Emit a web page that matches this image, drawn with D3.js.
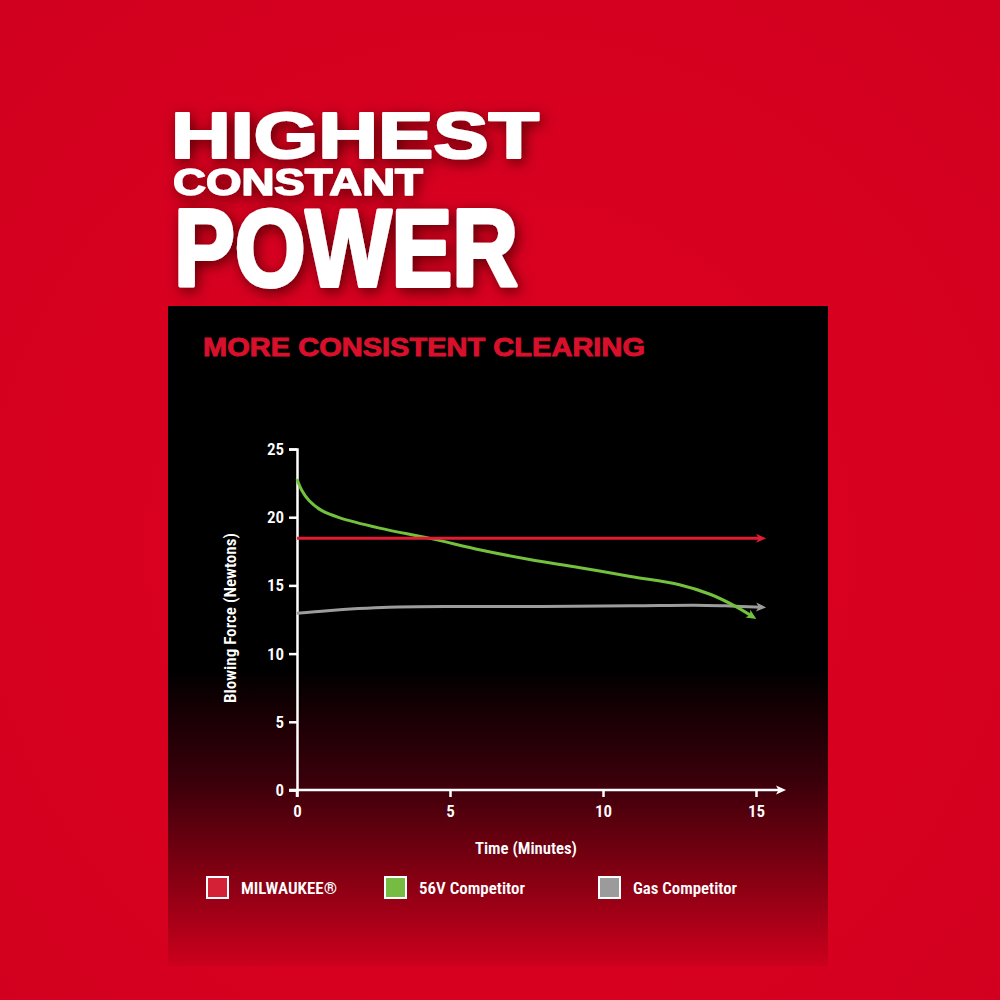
<!DOCTYPE html>
<html><head><meta charset="utf-8">
<script src="https://cdn.jsdelivr.net/npm/d3@7"></script>
<style>html,body{margin:0;padding:0;background:#da0020;}svg{display:block}</style>
</head><body>
<svg id="c" width="1000" height="1000"></svg>
<script>
// ---- data ----
const seriesNames = ["MILWAUKEE®", "56V Competitor", "Gas Competitor"];
const seriesColors = ["#e11d36", "#74c13d", "#9c9c9c"];
const legendFills = ["#d42135", "#76bc43", "#9b9b9b"];
const milwaukeeTime = [0, 15.2];
const milwaukeeForce = [18.45, 18.45];
const v56Time = [0, 0.15, 0.4, 0.8, 1.4, 2.7, 4.35, 6.0, 7.6, 9.25, 10.9, 12.5, 13.5, 14.3, 14.9];
const v56Force = [22.8, 22.0, 21.2, 20.5, 19.95, 19.2, 18.45, 17.6, 16.9, 16.3, 15.65, 15.05, 14.35, 13.5, 12.7];
const gasTime = [0, 1, 2, 3, 5, 8, 11, 13, 14, 15.2];
const gasForce = [12.95, 13.15, 13.3, 13.4, 13.45, 13.45, 13.5, 13.55, 13.5, 13.4];
const yTicks = [0, 5, 10, 15, 20, 25];
const xTicks = [0, 5, 10, 15];
const titleLines = ["HIGHEST", "CONSTANT", "POWER"];
const subtitle = "MORE CONSISTENT CLEARING";
const xTitle = "Time (Minutes)";
const yTitle = "Blowing Force (Newtons)";

const svg = d3.select("#c");
const defs = svg.append("defs");
const cond = "'Liberation Sans Narrow','Roboto Condensed','Arial Narrow',Roboto,sans-serif";
const heavy = "'Liberation Sans','DejaVu Sans',Arial,sans-serif";

// background
svg.append("rect").attr("width",1000).attr("height",1000).attr("fill","#da0020");
const bgGrad = defs.append("radialGradient").attr("id","bgv").attr("cx","50%").attr("cy","55%").attr("r","75%");
bgGrad.append("stop").attr("offset","0%").attr("stop-color","#e20022").attr("stop-opacity",0.0);
bgGrad.append("stop").attr("offset","100%").attr("stop-color","#b80018").attr("stop-opacity",0.3);
svg.append("rect").attr("width",1000).attr("height",1000).attr("fill","url(#bgv)");

// title shadow filter
const f = defs.append("filter").attr("id","sh").attr("x","-20%").attr("y","-40%").attr("width","140%").attr("height","180%");
f.append("feDropShadow").attr("dx",3).attr("dy",4).attr("stdDeviation",7).attr("flood-color","#4a0006").attr("flood-opacity",0.85);

const titleSpec = [
  {y:158, size:64, len:368, x:171, sw:2.2},
  {y:195, size:36, len:250, x:173, sw:1.4},
  {y:286, size:110, len:344, x:174, sw:4}
];
titleLines.forEach((t,i)=>{
  const s = titleSpec[i];
  svg.append("text").attr("x",s.x).attr("y",s.y).text(t)
    .attr("font-family",heavy).attr("font-weight","900").attr("font-size",s.size)
    .attr("textLength",s.len).attr("lengthAdjust","spacingAndGlyphs")
    .attr("fill","#ffffff").attr("stroke","#ffffff").attr("stroke-width",s.sw)
    .attr("stroke-linejoin","round").attr("filter","url(#sh)");
});

// panel
const pg = defs.append("linearGradient").attr("id","pg").attr("x1",0).attr("y1",0).attr("x2",0).attr("y2",1);
[["0%","#000000"],["55%","#000000"],["72%","#3a000a"],["86%","#820012"],["100%","#cc001d"]]
  .forEach(([o,c])=>pg.append("stop").attr("offset",o).attr("stop-color",c));
svg.append("rect").attr("x",168).attr("y",306).attr("width",660).attr("height",660).attr("fill","url(#pg)");

svg.append("text").attr("x",203).attr("y",356).text(subtitle)
  .attr("font-family",heavy).attr("font-weight","900").attr("font-size",25)
  .attr("textLength",442).attr("lengthAdjust","spacingAndGlyphs").attr("fill","#d8102c")
  .attr("stroke","#d8102c").attr("stroke-width",0.9);

// scales
const x = d3.scaleLinear().domain([0,15]).range([297,756]);
const y = d3.scaleLinear().domain([0,25]).range([790,449]);

// markers
function marker(id, color){
  defs.append("marker").attr("id",id).attr("viewBox","-1 -5 12 10")
    .attr("refX",6).attr("refY",0).attr("markerWidth",12).attr("markerHeight",10)
    .attr("markerUnits","userSpaceOnUse").attr("orient","auto")
    .append("path").attr("d","M0,-4.5 L10,0 L0,4.5 L2.5,0 Z").attr("fill",color);
}
marker("mr", seriesColors[0]); marker("mg", seriesColors[1]); marker("mgr", seriesColors[2]);
marker("mw", "#ffffff");

// axes
const yAxis = d3.axisLeft(y).tickValues(yTicks).tickSize(8).tickSizeOuter(8).tickPadding(5);
const ya = svg.append("g").attr("transform","translate(297,0)").call(yAxis);
ya.select(".domain").attr("stroke","#fff").attr("stroke-width",2.5);
ya.selectAll(".tick line").attr("stroke","#fff").attr("stroke-width",2.5);
ya.selectAll(".tick text").attr("fill","#fff").attr("font-family",cond).attr("font-size",17).attr("font-weight","600");
svg.append("line").attr("x1",297).attr("x2",297).attr("y1",y(0)).attr("y2",y(0)+7).attr("stroke","#fff").attr("stroke-width",2.5);

const xAxis = d3.axisBottom(x).tickValues(xTicks).tickSize(7).tickSizeOuter(0).tickPadding(8);
const xa = svg.append("g").attr("transform","translate(0,790)").call(xAxis);
xa.select(".domain").remove();
xa.selectAll(".tick line").attr("stroke","#fff").attr("stroke-width",2.5);
xa.selectAll(".tick text").attr("fill","#fff").attr("font-family",cond).attr("font-size",17).attr("font-weight","600");
svg.append("line").attr("x1",289).attr("x2",x(15.85)).attr("y1",790).attr("y2",790)
  .attr("stroke","#fff").attr("stroke-width",2.5).attr("marker-end","url(#mw)");

svg.append("text").attr("x",526).attr("y",854).attr("text-anchor","middle").text(xTitle)
  .attr("fill","#fff").attr("font-family",cond).attr("font-size",16).attr("font-weight","600")
  .attr("textLength",102).attr("lengthAdjust","spacingAndGlyphs");
svg.append("text").attr("transform","translate(236,618) rotate(-90)").attr("text-anchor","middle").text(yTitle)
  .attr("fill","#fff").attr("font-family",cond).attr("font-size",16).attr("font-weight","600")
  .attr("textLength",170).attr("lengthAdjust","spacingAndGlyphs");

// lines
const line = d3.line().x(d=>x(d[0])).y(d=>y(d[1])).curve(d3.curveCatmullRom.alpha(0.5));
const series = [
  {t:milwaukeeTime, v:milwaukeeForce, c:seriesColors[0], m:"mr"},
  {t:gasTime, v:gasForce, c:seriesColors[2], m:"mgr"},
  {t:v56Time, v:v56Force, c:seriesColors[1], m:"mg"}
];
const drawOrder = [1,2,0];
drawOrder.forEach(i=>{
  const s = series[i];
  svg.append("path").datum(d3.zip(s.t,s.v)).attr("d",line).attr("fill","none")
    .attr("stroke",s.c).attr("stroke-width",3).attr("marker-end",`url(#${s.m})`);
});

// legend
const legX = [207, 385, 599];
const legLen = [96, 106, 104];
seriesNames.forEach((n,i)=>{
  svg.append("rect").attr("x",legX[i]).attr("y",877).attr("width",21).attr("height",21)
    .attr("fill",legendFills[i]).attr("stroke","#fff").attr("stroke-width",2);
  svg.append("text").attr("x",legX[i]+34).attr("y",894).text(n)
    .attr("fill","#fff").attr("font-family",cond).attr("font-size",17).attr("font-weight","600")
    .attr("textLength",legLen[i]).attr("lengthAdjust","spacingAndGlyphs");
});
</script>
</body></html>
